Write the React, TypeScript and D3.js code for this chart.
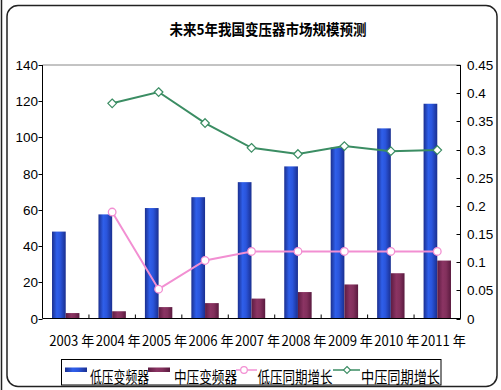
import * as React from 'react';
import * as d3 from 'd3';

const years = ['2003', '2004', '2005', '2006', '2007', '2008', '2009', '2010', '2011'];
const lowVfd = [48, 57.5, 61, 67, 75.3, 84, 94.4, 105, 118.6];
const midVfd = [3, 4, 6.3, 8.5, 11, 14.6, 18.8, 25, 32];
const lowGrowth = [null, 0.189, 0.052, 0.103, 0.119, 0.119, 0.119, 0.119, 0.119];
const midGrowth = [null, 0.382, 0.402, 0.347, 0.303, 0.292, 0.306, 0.297, 0.299];
const leftTicks = [0, 20, 40, 60, 80, 100, 120, 140];
const rightTicks = [0, 0.05, 0.1, 0.15, 0.2, 0.25, 0.3, 0.35, 0.4, 0.45];
const seriesNames = ['低压变频器', '中压变频器', '低压同期增长', '中压同期增长'];
const title = '未来5年我国变压器市场规模预测';

const W = 501;
const H = 390;
const pl = 42.5, pr = 460.5, pt = 65, pb = 318.5;
const cjk = '"Noto Sans CJK SC", sans-serif';
const latin = '"Liberation Sans", Arial, sans-serif';
const pink = '#f28fd2';
const green = '#3b8d63';

export default function App() {
  const x = d3.scaleBand<string>().domain(years).range([pl, pr]).padding(0);
  const yL = d3.scaleLinear().domain([0, 140]).range([pb, pt]);
  const yR = d3.scaleLinear().domain([0, 0.45]).range([pb, pt]);
  const bw = x.bandwidth() * 0.295;
  const cx = (y: string) => (x(y) as number) + x.bandwidth() / 2;

  const line = d3.line<[string, number | null]>()
    .defined((d) => d[1] != null)
    .x((d) => cx(d[0]))
    .y((d) => yR(d[1] as number));

  const lowPts = years.map((y, i) => [y, lowGrowth[i]] as [string, number | null]);
  const midPts = years.map((y, i) => [y, midGrowth[i]] as [string, number | null]);

  const diamond = (px: number, py: number, s: number) =>
    `M${px},${py - s}L${px + s},${py}L${px},${py + s}L${px - s},${py}Z`;

  return (
    <svg width={W} height={H} style={{ position: 'absolute', left: 0, top: 0, background: '#fff' }}>
      <defs>
        <linearGradient id="gBlue" x1="0" x2="1" y1="0" y2="0">
          <stop offset="0" stopColor="#1b2f8f" />
          <stop offset="0.35" stopColor="#2f5fea" />
          <stop offset="0.6" stopColor="#2a55dc" />
          <stop offset="1" stopColor="#1a2f90" />
        </linearGradient>
        <linearGradient id="gMaroon" x1="0" x2="1" y1="0" y2="0">
          <stop offset="0" stopColor="#5e1c42" />
          <stop offset="0.4" stopColor="#8b3463" />
          <stop offset="0.65" stopColor="#82305c" />
          <stop offset="1" stopColor="#5a1a3f" />
        </linearGradient>
      </defs>

      <line x1={1.5} x2={1.5} y1={0} y2={H} stroke="#222" strokeWidth={1.5} />
      <rect x={7} y={5.5} width={490} height={381} rx={11} fill="#fff" stroke="#222" strokeWidth={1.5} />

      <text x={268} y={35} textAnchor="middle" fontFamily={cjk} fontWeight="bold" fontSize={15}
        textLength={197} lengthAdjust="spacingAndGlyphs">{title}</text>

      <line x1={pl} x2={pr} y1={pt} y2={pt} stroke="#888" />

      {years.map((y, i) => (
        <g key={y}>
          <rect x={cx(y) - bw} y={yL(lowVfd[i])} width={bw} height={pb - yL(lowVfd[i])} fill="url(#gBlue)" />
          <rect x={cx(y)} y={yL(midVfd[i])} width={bw} height={pb - yL(midVfd[i])} fill="url(#gMaroon)" />
        </g>
      ))}

      <path d={line(lowPts) || ''} fill="none" stroke={pink} strokeWidth={2} />
      <path d={line(midPts) || ''} fill="none" stroke={green} strokeWidth={2} />
      {lowPts.filter((d) => d[1] != null).map((d) => (
        <circle key={'l' + d[0]} cx={cx(d[0])} cy={yR(d[1] as number)} r={3.8} fill="#fff" stroke={pink} strokeWidth={1.3} />
      ))}
      {midPts.filter((d) => d[1] != null).map((d) => (
        <path key={'m' + d[0]} d={diamond(cx(d[0]), yR(d[1] as number), 4.3)} fill="#fff" stroke={green} strokeWidth={1.2} />
      ))}

      {/* axes */}
      <line x1={pl} x2={pl} y1={pt} y2={pb} stroke="#000" />
      <line x1={pr} x2={pr} y1={pt} y2={pb} stroke="#000" />
      <line x1={pl} x2={pr} y1={pb} y2={pb} stroke="#000" />
      {leftTicks.map((t) => (
        <g key={'lt' + t}>
          <line x1={pl - 4} x2={pl} y1={Math.round(yL(t)) + 0.5} y2={Math.round(yL(t)) + 0.5} stroke="#000" />
          <text x={38} y={yL(t) + 5} textAnchor="end" fontFamily={latin} fontSize={13.5}>{t}</text>
        </g>
      ))}
      {rightTicks.map((t) => (
        <g key={'rt' + t}>
          <line x1={pr - 4} x2={pr} y1={Math.round(yR(t)) + 0.5} y2={Math.round(yR(t)) + 0.5} stroke="#000" />
          <text x={467} y={yR(t) + 5} textAnchor="start" fontFamily={latin} fontSize={13.5}>{String(t)}</text>
        </g>
      ))}
      {years.map((y) => (
        <g key={'xt' + y}>
          <line x1={(x(y) as number) + x.bandwidth()} x2={(x(y) as number) + x.bandwidth()} y1={pb - 4} y2={pb} stroke="#000" />
          <text x={cx(y) + 6} y={346} textAnchor="middle" fontFamily={cjk} fontSize={14}
            textLength={45} lengthAdjust="spacingAndGlyphs">{y + ' 年'}</text>
        </g>
      ))}

      {/* legend */}
      <rect x={61.5} y={359.5} width={379.5} height={25.5} fill="none" stroke="#000" />
      <rect x={65} y={367.5} width={22} height={4.5} fill="url(#gBlue)" />
      <text x={90} y={382.5} fontFamily={cjk} fontSize={16} textLength={59} lengthAdjust="spacingAndGlyphs">{seriesNames[0]}</text>
      <rect x={148} y={367.5} width={22} height={4.5} fill="url(#gMaroon)" />
      <text x={174} y={382.5} fontFamily={cjk} fontSize={16} textLength={63} lengthAdjust="spacingAndGlyphs">{seriesNames[1]}</text>
      <line x1={236} x2={257} y1={370} y2={370} stroke={pink} strokeWidth={1.5} />
      <circle cx={244} cy={370} r={3.3} fill="#fff" stroke={pink} strokeWidth={1.2} />
      <text x={257.5} y={382.5} fontFamily={cjk} fontSize={16} textLength={75} lengthAdjust="spacingAndGlyphs">{seriesNames[2]}</text>
      <line x1={333} x2={360} y1={370} y2={370} stroke={green} strokeWidth={1.5} />
      <path d={diamond(347, 370, 3.5)} fill="#fff" stroke={green} strokeWidth={1.1} />
      <text x={361} y={382.5} fontFamily={cjk} fontSize={16} textLength={79} lengthAdjust="spacingAndGlyphs">{seriesNames[3]}</text>
    </svg>
  );
}
